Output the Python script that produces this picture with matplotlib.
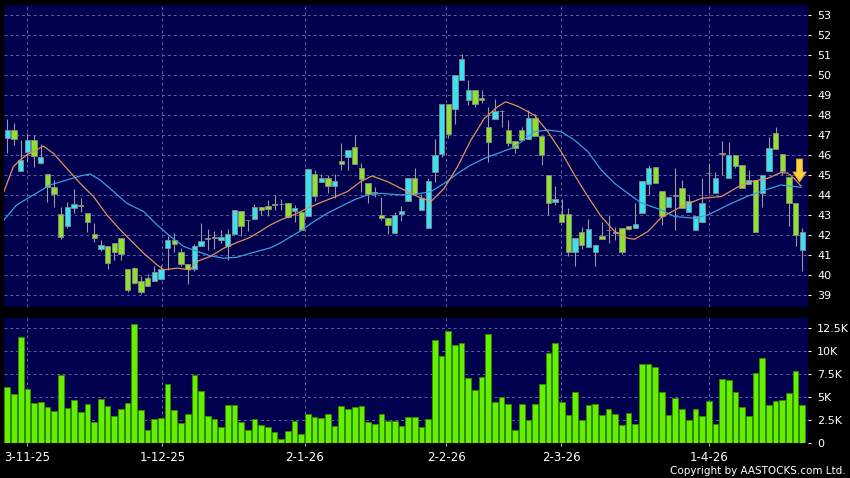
import numpy as np
import matplotlib.pyplot as plt

# daily OHLC (index 0 = first session shown)
opens = [46.83, 47.25, 45.22, 46.17, 46.75, 45.62, 45.05, 44.42, 43.03, 42.45,
         43.37, 43.50, 43.08, 42.03, 41.28, 41.45, 41.58, 41.83, 40.28, 40.33,
         39.70, 39.83, 39.70, 39.78, 41.33, 41.75, 41.13, 40.53, 40.28, 41.42,
         41.80, 41.85, 41.72, 41.42, 42.03, 43.22, 42.72, 42.80, 43.38, 43.47,
         43.50, 43.53, 43.58, 43.20, 43.12, 42.92, 45.03, 44.63, 44.83, 44.45,
         45.70, 45.88, 46.38, 45.33, 44.62, 44.10, 43.00, 42.83, 42.08, 43.05,
         43.72, 44.83, 43.25, 42.33, 45.17, 46.03, 48.58, 48.33, 49.78, 48.78,
         49.28, 48.88, 47.38, 47.83, 48.20, 47.25, 46.70, 47.25, 46.78, 47.88,
         46.95, 45.00, 43.67, 43.03, 43.03, 41.12, 42.12, 41.38, 41.12, 41.95,
         42.22, 42.10, 42.33, 42.45, 42.33, 43.08, 44.55, 45.38, 44.20, 43.42,
         43.95, 44.33, 43.13, 42.25, 42.62, 45.08, 44.08, 46.05, 44.87, 46.00,
         45.50, 44.55, 44.75, 44.08, 45.22, 47.08, 46.05, 44.92, 43.58, 41.22]
closes = [47.25, 46.78, 45.75, 46.75, 45.95, 45.88, 44.42, 44.03, 41.88, 43.38,
          43.53, 43.47, 42.62, 41.83, 41.50, 40.58, 41.13, 41.03, 39.22, 39.60,
          39.13, 39.42, 40.13, 40.30, 41.75, 41.55, 40.53, 40.28, 41.42, 41.70,
          41.80, 41.85, 41.88, 42.03, 43.25, 42.45, 42.72, 43.38, 43.25, 43.28,
          43.50, 43.53, 42.87, 43.33, 42.25, 45.28, 43.95, 44.83, 44.45, 44.72,
          45.53, 46.25, 45.55, 44.78, 44.03, 44.10, 42.83, 42.50, 43.00, 43.18,
          44.83, 44.05, 43.87, 44.72, 46.00, 48.58, 47.03, 50.03, 50.83, 49.28,
          48.58, 48.78, 46.67, 48.20, 48.20, 46.62, 46.33, 46.75, 47.88, 46.95,
          46.00, 43.62, 43.78, 42.62, 41.12, 41.83, 41.50, 42.28, 41.50, 41.78,
          42.22, 42.10, 41.12, 42.28, 42.53, 44.72, 45.33, 44.62, 42.92, 43.92,
          43.95, 43.33, 43.72, 42.92, 43.62, 45.08, 44.83, 46.05, 46.00, 45.45,
          44.33, 44.75, 42.12, 45.00, 46.33, 46.28, 45.22, 43.58, 42.00, 42.12]
highs = [47.83, 47.62, 46.75, 47.12, 47.00, 46.53, 45.05, 44.75, 43.42, 43.67,
         44.28, 43.83, 43.08, 42.58, 41.72, 41.45, 41.58, 41.83, 40.28, 40.40,
         39.92, 40.05, 40.42, 40.50, 41.95, 42.08, 41.33, 40.53, 41.55, 42.58,
         42.28, 42.20, 42.25, 42.28, 43.25, 43.22, 42.72, 43.55, 43.40, 43.75,
         44.00, 43.78, 43.58, 43.50, 43.12, 45.28, 45.25, 45.03, 45.00, 45.05,
         46.58, 46.25, 47.00, 45.58, 44.62, 44.40, 43.88, 42.83, 43.17, 43.47,
         44.83, 45.33, 44.05, 44.83, 46.78, 48.58, 48.58, 50.03, 51.05, 49.75,
         49.28, 49.28, 48.42, 48.83, 48.25, 47.75, 46.70, 47.38, 48.25, 48.08,
         46.95, 45.00, 44.45, 43.78, 43.37, 41.83, 42.38, 42.78, 41.50, 42.62,
         43.00, 42.40, 42.33, 42.45, 43.58, 44.72, 45.50, 45.38, 44.20, 43.92,
         45.33, 44.75, 44.00, 42.92, 44.83, 45.58, 45.17, 46.72, 46.67, 46.00,
         45.50, 45.25, 44.75, 45.00, 46.88, 47.42, 46.05, 44.92, 43.58, 42.33]
lows = [46.12, 46.50, 45.22, 45.67, 45.42, 45.55, 43.67, 43.42, 41.78, 42.33,
        43.08, 43.17, 42.12, 41.62, 41.17, 40.28, 40.72, 40.75, 39.12, 39.55,
        39.05, 39.42, 39.70, 39.75, 40.25, 41.12, 40.42, 39.53, 40.17, 41.42,
        41.25, 41.30, 41.58, 40.75, 42.03, 41.95, 42.17, 42.80, 43.00, 42.92,
        43.25, 43.25, 42.83, 42.62, 42.22, 42.92, 43.72, 44.63, 44.12, 43.83,
        45.25, 45.25, 45.55, 44.17, 43.62, 43.88, 42.75, 42.05, 42.08, 42.67,
        43.72, 44.05, 43.25, 42.33, 44.67, 45.92, 46.87, 47.55, 49.78, 48.50,
        48.42, 48.62, 45.63, 47.83, 47.42, 46.45, 46.12, 46.75, 46.78, 46.95,
        45.50, 43.00, 43.50, 42.62, 40.92, 40.42, 41.28, 41.38, 40.42, 41.78,
        41.58, 41.75, 41.05, 42.25, 42.33, 43.08, 44.00, 44.62, 42.50, 43.42,
        42.22, 43.33, 43.13, 42.25, 42.62, 44.08, 44.08, 45.00, 44.87, 45.33,
        44.33, 44.55, 42.12, 43.42, 45.22, 46.28, 45.00, 42.42, 41.42, 40.17]
# volume in thousands
volumes = [6.09, 5.33, 11.45, 5.90, 4.35, 4.42, 3.88, 3.51, 7.36, 3.77,
           4.64, 3.41, 4.28, 2.25, 4.78, 4.06, 3.00, 3.70, 4.38, 12.86,
           3.55, 1.41, 2.64, 2.75, 6.45, 3.62, 2.21, 3.22, 7.43, 5.65,
           3.00, 2.61, 1.78, 4.13, 4.13, 2.32, 1.45, 2.64, 2.03, 1.74,
           1.23, 0.43, 1.34, 2.46, 0.98, 3.22, 2.83, 2.72, 3.12, 1.88,
           3.99, 3.73, 3.91, 4.02, 2.28, 2.10, 3.22, 2.46, 2.46, 1.85,
           2.83, 2.83, 1.74, 2.64, 11.12, 9.42, 12.10, 10.65, 10.87, 7.07,
           5.80, 7.21, 11.85, 4.42, 5.00, 4.20, 1.45, 4.20, 2.57, 4.24,
           6.45, 9.75, 10.90, 4.50, 3.10, 5.60, 2.50, 4.10, 4.30, 3.10,
           3.70, 3.20, 2.00, 3.30, 2.10, 8.60, 8.60, 8.20, 5.50, 3.10,
           4.90, 3.70, 2.50, 3.70, 3.00, 4.60, 2.10, 7.00, 6.90, 5.60,
           3.90, 3.00, 7.60, 9.20, 4.10, 4.60, 4.70, 5.40, 7.80, 4.10]

# moving averages, read at points along the lines
ma_short_x = [-0.5, 0.9, 1.9, 2.9, 3.9, 5.4, 6.9, 8.9, 10.9, 12.9, 14.9, 16.9,
              18.9, 20.4, 22.4, 23.4, 25.4, 27.4, 28.4, 30.4, 32.4, 34.4, 36.4,
              39.4, 40.9, 42.9, 44.9, 46.9, 48.9, 50.9, 52.9, 54.6, 56.9, 58.9,
              61.4, 63.4, 65.4, 67.4, 69.4, 71.4, 73.4, 74.6, 76.4, 78.9, 80.9,
              82.9, 84.9, 86.9, 88.9, 90.9, 92.9, 93.9, 95.9, 97.9, 100.9,
              103.9, 106.9, 109.9, 111.8, 113.8, 115.8, 116.8, 117.8, 118.8]
ma_short = [44.17, 45.42, 45.75, 46.00, 46.17, 46.45, 46.08, 45.33, 44.58, 43.92,
            43.00, 42.25, 41.58, 41.08, 40.50, 40.25, 40.33, 40.25, 40.67, 40.92,
            41.33, 41.62, 41.88, 42.50, 42.75, 43.00, 43.33, 43.62, 43.88, 44.17,
            44.67, 44.95, 44.67, 44.33, 43.92, 43.67, 44.33, 45.42, 46.75, 47.83,
            48.42, 48.67, 48.45, 48.00, 47.17, 46.17, 45.00, 43.92, 42.92, 42.17,
            41.83, 41.78, 42.17, 42.87, 43.42, 43.83, 43.92, 44.50, 44.70, 44.83,
            45.12, 45.10, 44.83, 44.45]
ma_long_x = [-0.5, 1.4, 3.9, 6.4, 8.9, 10.9, 12.4, 13.9, 15.9, 17.9, 20.4, 22.4,
             24.4, 26.4, 28.4, 30.4, 32.4, 34.4, 36.4, 39.4, 40.9, 43.9, 45.9,
             47.9, 49.9, 51.9, 53.9, 55.9, 58.9, 61.4, 63.4, 65.4, 67.4, 69.4,
             71.4, 73.4, 75.4, 76.9, 78.9, 80.9, 82.9, 84.9, 86.9, 88.9, 90.9,
             92.9, 94.9, 97.9, 99.9, 102.9, 104.9, 107.9, 110.9, 113.8, 115.8,
             117.8, 118.8]
ma_long = [42.75, 43.50, 44.00, 44.50, 44.75, 44.95, 45.05, 44.75, 44.17, 43.58,
           43.17, 42.50, 41.92, 41.42, 41.17, 40.95, 40.83, 40.88, 41.08, 41.35,
           41.60, 42.20, 42.67, 43.08, 43.42, 43.75, 44.00, 44.08, 44.00, 44.05,
           44.17, 44.58, 45.08, 45.50, 45.83, 46.08, 46.33, 46.65, 47.17, 47.25,
           47.17, 46.75, 46.17, 45.25, 44.58, 44.08, 43.60, 43.25, 42.92, 42.83,
           43.00, 43.50, 43.95, 44.28, 44.50, 44.42, 44.38]

date_labels = ['3-11-25', '1-12-25', '2-1-26', '2-2-26', '2-3-26', '1-4-26']
date_pos = [3.0, 23.2, 44.5, 65.7, 82.9, 105.0]
price_ticks = list(range(39, 54))
vol_ticks = [0, 2.5, 5, 7.5, 10, 12.5]
vol_labels = ['0', '2.5K', '5K', '7.5K', '10K', '12.5K']

BG = '#00004e'
GRID = '#6060a0'
UP = '#38e2f0'
DOWN = '#8fe22c'
DOJI = '#b0b0b0'

o = np.array(opens)
c = np.array(closes)
x = np.arange(len(o))

fig = plt.figure(figsize=(8.5, 4.78), dpi=100, facecolor='black')
ax = fig.add_axes([0.0047, 0.3584, 0.9462, 0.6312], facecolor=BG)
axv = fig.add_axes([0.0047, 0.0726, 0.9462, 0.2615], facecolor=BG, sharex=ax)

# dashed grid
for a in (ax, axv):
    for p in date_pos:
        a.axvline(p, color=GRID, lw=0.7, ls=(0, (3, 3)), zorder=0)
for p in price_ticks:
    ax.axhline(p, color=GRID, lw=0.7, ls=(0, (3, 3)), zorder=0)
for v in vol_ticks[1:]:
    axv.axhline(v, color=GRID, lw=0.7, ls=(0, (3, 3)), zorder=0)

# candles
colors = [DOJI if abs(cc - oo) < 0.02 else (UP if cc > oo else DOWN) for oo, cc in zip(o, c)]
ax.vlines(x, lows, highs, color='#9a9a9a', lw=0.8, zorder=2)
ax.bar(x, np.maximum(np.abs(c - o), 0.03), bottom=np.minimum(o, c), width=0.8,
       color=colors, edgecolor='#8a8a8a', linewidth=0.6, zorder=3)

# moving averages
ax.plot(ma_long_x, ma_long, color='#3a9ee0', lw=0.9, zorder=4)
ax.plot(ma_short_x, ma_short, color='#e2915a', lw=0.9, zorder=4)

# signal arrow
ax.arrow(118.6, 45.8, 0, -1.15, width=0.9, head_width=2.0, head_length=0.5,
         length_includes_head=True, fc='#ffd23c', ec='#e9a21e', lw=0.6, zorder=5)

# volume
axv.bar(x, volumes, width=0.85, color='#66f000', edgecolor='#2f8a00', linewidth=0.7, zorder=2)

ax.set_xlim(-0.5, 119.9)
ax.set_ylim(38.4, 53.52)
axv.set_ylim(0, 13.52)

for a in (ax, axv):
    for s in a.spines.values():
        s.set_visible(False)
    a.yaxis.tick_right()
    a.tick_params(axis='y', colors='white', labelsize=8, length=2.5, width=0.8, pad=4)

ax.set_yticks(price_ticks)
ax.tick_params(axis='x', bottom=False, labelbottom=False)
axv.set_yticks(vol_ticks)
axv.set_yticklabels(vol_labels)
axv.set_xticks(date_pos)
axv.set_xticklabels(date_labels)
axv.tick_params(axis='x', colors='#bbbbbb', labelcolor='white', labelsize=8.5,
                length=2.5, width=0.8, pad=3)

fig.text(0.995, 0.014, 'Copyright by AASTOCKS.com Ltd.', color='white',
         fontsize=7.5, ha='right', va='center')

fig.savefig('out.png', dpi=100, facecolor='black')
